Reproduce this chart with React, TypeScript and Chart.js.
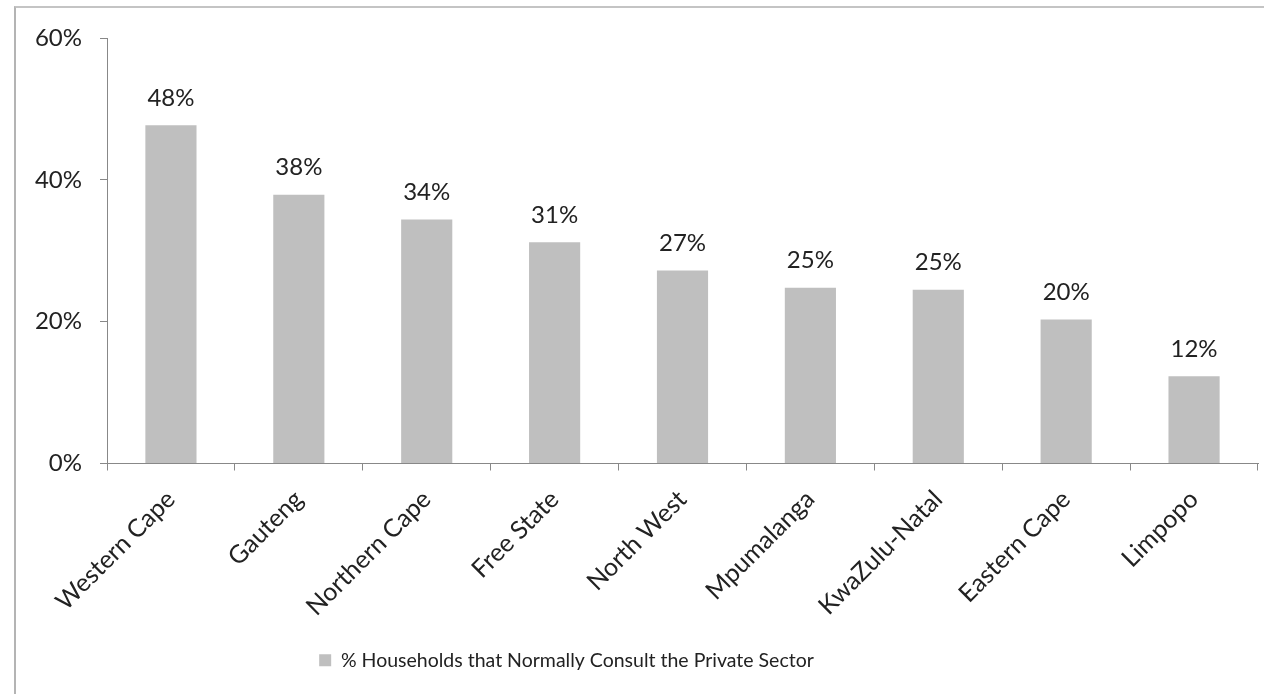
import React, { useEffect, useRef } from "react";
import { Chart, registerables } from "chart.js";

Chart.register(...registerables);

const categories = [
  "Western Cape",
  "Gauteng",
  "Northern Cape",
  "Free State",
  "North West",
  "Mpumalanga",
  "KwaZulu-Natal",
  "Eastern Cape",
  "Limpopo",
];
const seriesName = "% Households that Normally Consult the Private Sector";
const values = [47.7, 37.9, 34.4, 31.2, 27.2, 24.8, 24.5, 20.3, 12.3];
const valueLabels = ["48%", "38%", "34%", "31%", "27%", "25%", "25%", "20%", "12%"];
const yMin = 0;
const yMax = 60;
const yStep = 20;

const FONT = "Lato";
const TEXT = "#222222";
const BAR = "#BFBFBF";
const AXIS = "#888888";

export default function App() {
  const ref = useRef<HTMLCanvasElement>(null);

  useEffect(() => {
    if (!ref.current) return;

    const dataLabels = {
      id: "dataLabels",
      afterDatasetsDraw(chart: any) {
        const ctx = chart.ctx;
        const meta = chart.getDatasetMeta(0);
        ctx.save();
        ctx.font = `24px ${FONT}`;
        ctx.fillStyle = TEXT;
        ctx.textAlign = "center";
        ctx.textBaseline = "middle";
        meta.data.forEach((el: any, i: number) => {
          ctx.fillText(valueLabels[i], el.x, el.y - 27);
        });
        ctx.restore();
      },
    };

    const legendShift = {
      id: "legendShift",
      afterLayout(chart: any) {
        const lg = chart.legend;
        if (lg) {
          lg.left = 0;
          lg.right = 1133;
        }
      },
    };

    const chart = new Chart(ref.current, {
      type: "bar",
      data: {
        labels: categories,
        datasets: [
          {
            label: seriesName,
            data: values,
            backgroundColor: BAR,
            borderWidth: 0,
            categoryPercentage: 1,
            barPercentage: 0.4,
          },
        ],
      },
      options: {
        responsive: false,
        animation: false,
        events: [],
        layout: { padding: { top: 38, left: 0, right: 6, bottom: 14 } },
        plugins: {
          tooltip: { enabled: false },
          legend: {
            position: "bottom",
            labels: {
              boxWidth: 12,
              boxHeight: 12,
              color: TEXT,
              font: { family: FONT, size: 19.5 },
              padding: 10,
            },
          },
        },
        scales: {
          x: {
            grid: {
              display: true,
              drawOnChartArea: false,
              drawTicks: true,
              tickLength: 7,
              color: AXIS,
              offset: true,
            },
            border: { display: true, color: AXIS, width: 1 },
            ticks: {
              color: TEXT,
              font: { family: FONT, size: 25 },
              minRotation: 45,
              maxRotation: 45,
              padding: 14,
              autoSkip: false,
            },
            afterFit(scale: any) {
              scale.height = 177;
            },
          },
          y: {
            min: yMin,
            max: yMax,
            grid: {
              display: true,
              drawOnChartArea: false,
              drawTicks: true,
              tickLength: 7,
              color: AXIS,
            },
            border: { display: true, color: AXIS, width: 1 },
            ticks: {
              stepSize: yStep,
              color: TEXT,
              font: { family: FONT, size: 24 },
              padding: 18,
              callback: (v: any) => `${v}%`,
            },
            afterFit(scale: any) {
              scale.width = 107;
            },
          },
        },
      },
      plugins: [dataLabels, legendShift],
    });

    return () => chart.destroy();
  }, []);

  return (
    <div style={{ position: "absolute", left: 0, top: 0, width: 1264, height: 694, overflow: "hidden", background: "#ffffff" }}>
      <div
        style={{
          position: "absolute",
          left: 14,
          top: 6,
          width: 1300,
          height: 720,
          borderTop: "2px solid #c4c4c4",
          borderLeft: "2px solid #b4b4b4",
        }}
      />
      <canvas ref={ref} width={1264} height={694} style={{ position: "absolute", left: 0, top: 0 }} />
    </div>
  );
}
